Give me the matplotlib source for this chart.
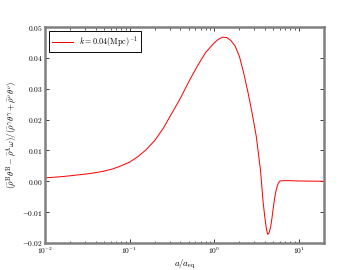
import math
import matplotlib
matplotlib.use("Agg")
import matplotlib.pyplot as plt
from matplotlib.ticker import FuncFormatter

# values
a_ratio = [0.01, 0.0126, 0.0158, 0.02, 0.0251, 0.0316, 0.0398, 0.0501, 0.0631,
           0.0794, 0.1, 0.126, 0.158, 0.2, 0.251, 0.316, 0.398, 0.501, 0.631,
           0.794, 1.0, 1.122, 1.259, 1.413, 1.585, 1.778, 1.995, 2.239, 2.512,
           2.818, 3.162, 3.548, 3.802, 3.981, 4.169, 4.315, 4.467, 4.677,
           4.842, 5.012, 5.188, 5.370, 5.559, 5.754, 6.026, 6.607, 7.943,
           10.0, 20.0]
energy_ratio = [0.0011, 0.0013, 0.0015, 0.0018, 0.0021, 0.0024, 0.0028, 0.0033,
                0.0040, 0.0050, 0.0062, 0.0080, 0.0103, 0.0133, 0.0172, 0.0220,
                0.0268, 0.0322, 0.0372, 0.0417, 0.0448, 0.0460, 0.0467, 0.0466,
                0.0456, 0.0438, 0.0405, 0.0352, 0.0290, 0.0222, 0.0145, 0.0035,
                -0.0065, -0.0115, -0.0155, -0.0172, -0.0168, -0.0148, -0.0120,
                -0.0088, -0.0058, -0.0035, -0.0018, -0.0006, 0.0001, 0.0002,
                0.0002, 0.0001, 0.0000]
label = r"$k=0.04(\mathrm{Mpc})^{-1}$"

plt.rcParams["mathtext.fontset"] = "cm"
plt.rcParams["font.family"] = "serif"

fig = plt.figure(figsize=(8, 6), dpi=45)
ax = fig.add_subplot(111)
fig.subplots_adjust(left=0.125, right=0.9, bottom=0.1, top=0.9)

ax.plot(a_ratio, energy_ratio, color="red", lw=1.6, label=label)
ax.set_xscale("log")
ax.set_xlim(0.01, 20)
ax.set_ylim(-0.02, 0.05)

ax.xaxis.set_major_formatter(FuncFormatter(lambda v, p: r"$10^{%d}$" % round(math.log10(v))))
ax.yaxis.set_major_formatter(FuncFormatter(lambda v, p: r"$%.2f$" % v))
ax.tick_params(which="both", direction="in", top=True, right=True, labelsize=12)
ax.tick_params(which="major", length=7, width=1.2)
ax.tick_params(which="minor", length=4, width=1)
ax.tick_params(axis="x", pad=5)
for s in ax.spines.values():
    s.set_color("gray")
    s.set_linewidth(4)

ax.set_xlabel(r"$a/a_{\rm eq}$", fontsize=14, labelpad=3)
ax.set_ylabel(r"$(\bar{\rho}^{\rm B}\theta^{\rm B}-\bar{\rho}^{\Lambda}\omega)/(\bar{\rho}^{\gamma}\theta^{\gamma}+\bar{\rho}^{\nu}\theta^{\nu})$",
              fontsize=14)

leg = ax.legend(loc="upper left", fontsize=13, fancybox=False, framealpha=1, handlelength=2.5)
leg.get_frame().set_edgecolor("black")
leg.get_frame().set_linewidth(1.5)

fig.savefig("out.png", dpi=45)
